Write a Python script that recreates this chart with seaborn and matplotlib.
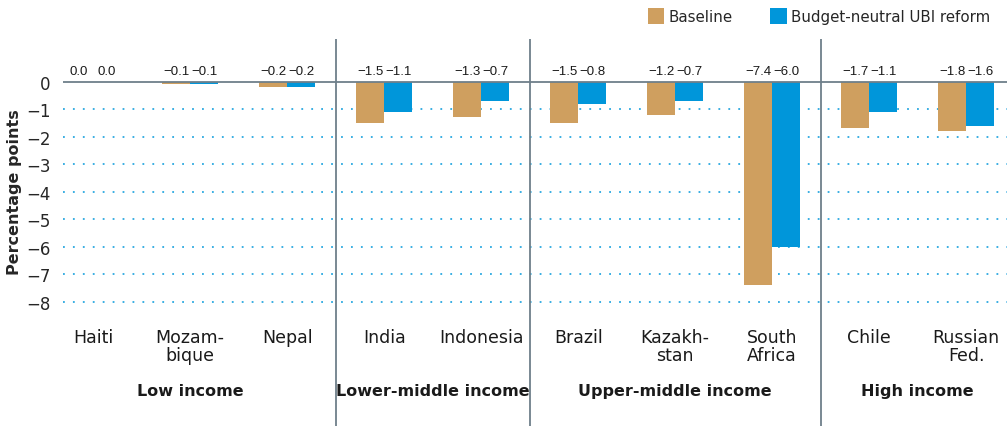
import pandas as pd
import matplotlib.pyplot as plt
import seaborn as sns

# Dados do gráfico
countries = ["Haiti", "Mozam-\nbique", "Nepal", "India", "Indonesia",
             "Brazil", "Kazakh-\nstan", "South\nAfrica", "Chile", "Russian\nFed."]
baseline = [0.0, -0.1, -0.2, -1.5, -1.3, -1.5, -1.2, -7.4, -1.7, -1.8]
ubi_reform = [0.0, -0.1, -0.2, -1.1, -0.7, -0.8, -0.7, -6.0, -1.1, -1.6]
series = ["Baseline", "Budget-neutral UBI reform"]
groups = ["Low income", "Lower-middle income", "Upper-middle income", "High income"]
group_sizes = [3, 2, 3, 2]
yticks = [0, -1, -2, -3, -4, -5, -6, -7, -8]

df = pd.DataFrame({
    "country": countries * 2,
    "value": baseline + ubi_reform,
    "series": [series[0]] * len(countries) + [series[1]] * len(countries),
})

sns.set_style("white")
plt.rcParams["font.family"] = ["DejaVu Sans"]

fig = plt.figure(figsize=(10.07, 4.27), dpi=100)
ax = fig.add_axes([0.0626, 0.0, 0.9374, 0.906])

cores = {series[0]: "#CF9F5F", series[1]: "#0096DA"}
sns.barplot(data=df, x="country", y="value", hue="series", palette=cores,
            width=0.58, gap=0, saturation=1, linewidth=0, ax=ax,
            legend=True, zorder=3)

ax.set_xlim(-0.31, 9.42)
ax.set_ylim(-12.5, 1.54)
for s in ax.spines.values():
    s.set_visible(False)

# Linhas de grade pontilhadas
for y in yticks[1:]:
    ax.axhline(y, color="#2AA8E0", lw=1.3, ls=(0, (1, 4.5)), zorder=1)
ax.axhline(0, color="#6E7F8A", lw=1.3, zorder=4)

ax.set_yticks(yticks)
ax.set_yticklabels([str(t).replace("-", "\u2212") for t in yticks], fontsize=12)
ax.tick_params(axis="y", length=0, pad=9)
ax.set_xticks([])
ax.set_xlabel("")
ax.set_ylabel("Percentage points", fontsize=11.5, fontweight="bold")
ax.yaxis.set_label_coords(-0.044, 0.607)

# Rótulos dos valores acima de cada barra
valores = [baseline, ubi_reform]
textos = []
for cont, vals in zip(ax.containers, valores):
    for patch, v in zip(cont, vals):
        xc = patch.get_x() + patch.get_width() / 2
        t = ax.text(xc, 0.17, f"{v:.1f}".replace("-", "\u2212"), ha="center",
                    va="bottom", fontsize=11, color="#1a1a1a",
                    family=["Liberation Sans Narrow", "Liberation Sans", "DejaVu Sans"])
        textos.append(t)

# Reduzir a fonte até os rótulos caberem na largura da barra
fig.canvas.draw()
r = fig.canvas.get_renderer()
bw = ax.transData.transform((ax.containers[0][0].get_width(), 0))[0] - ax.transData.transform((0, 0))[0]
tam = 11
while tam > 8 and max(t.get_window_extent(r).width for t in textos) > bw - 1.5:
    tam -= 0.25
    for t in textos:
        t.set_fontsize(tam)

# Nomes dos países
for i, c in enumerate(countries):
    ax.text(i, -8.95, c, ha="center", va="top", fontsize=12.5,
            linespacing=1.0, color="#1a1a1a")

# Separadores e nomes dos grupos
start = 0
for k, (g, n) in enumerate(zip(groups, group_sizes)):
    end = start + n
    ax.text((start + end - 1) / 2, -11.2, g, ha="center", va="center",
            fontsize=11.5, fontweight="bold", color="#1a1a1a")
    if k < len(groups) - 1:
        ax.axvline(end - 0.5, color="#6E7F8A", lw=1.3, zorder=4)
    start = end

handles, labels = ax.get_legend_handles_labels()
ax.legend_.remove()
fig.legend(handles, labels, loc="upper right", bbox_to_anchor=(0.997, 1.01),
           ncol=2, frameon=False, fontsize=10.8, handlelength=1.1,
           handleheight=1.2, handletextpad=0.3, columnspacing=2.5)

fig.savefig("out.png", dpi=100)
